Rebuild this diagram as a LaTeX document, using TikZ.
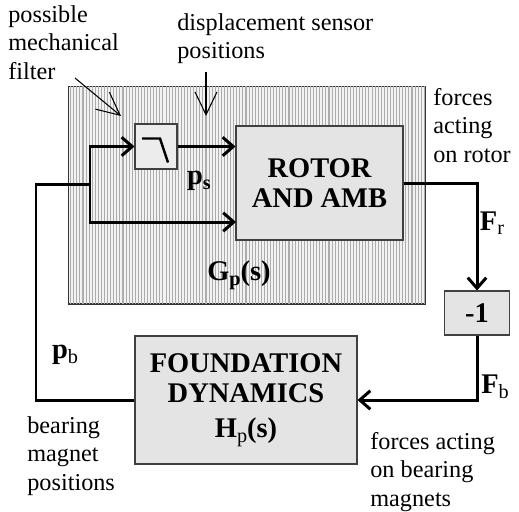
\documentclass[tikz,border=0pt]{standalone}
\usepackage{xcolor}
\usepackage{fontspec}
\setmainfont{Liberation Serif}
\usepackage{tikz}
\usetikzlibrary{arrows.meta,patterns.meta}
\definecolor{BoxGray}{RGB}{228,228,228}
\definecolor{FiltGray}{RGB}{236,236,236}
\definecolor{HatchBack}{RGB}{242,242,242}
\definecolor{HatchLine}{RGB}{172,172,172}
\newcommand{\notefont}{\fontsize{13.8}{16.2}\selectfont}
\newcommand{\blkfont}{\fontsize{16.2}{17}\selectfont\bfseries}
\newcommand{\lowsub}[1]{\raisebox{-0.35ex}{\fontsize{11.5}{12}\selectfont #1}}

\begin{document}
\begin{tikzpicture}[x=0.02cm, y=-0.02cm,
  block/.style={draw=black!75, line width=0.6pt, fill=BoxGray, inner sep=0pt, align=center, font=\blkfont},
  wire/.style={draw=black, line width=1.7pt},
  sig/.style={wire, -{Straight Barb[length=6pt,width=10.5pt]}},
  pointer/.style={draw=black, line width=0.6pt, -{Straight Barb[length=13pt,width=12.5pt]}},
  remark/.style={anchor=north west, inner sep=0pt, align=left, font=\notefont},
  sigtag/.style={inner sep=0pt, font=\blkfont}
]
\useasboundingbox (0,0) rectangle (519,511);

% plant G_p(s)
\node[draw=black!80, line width=0.6pt, fill=HatchBack, minimum width=7.14cm, minimum height=4.36cm,
  postaction={pattern={Lines[angle=90,distance=1.75pt,line width=0.6pt]}, pattern color=HatchLine}] (plant) at (246.5,195) {};

\node[block, fill=FiltGray, minimum width=0.84cm, minimum height=0.9cm] (filt) at (156,146.5) {};
\node[block, minimum width=3.34cm, minimum height=2.28cm] (rotor) at (319.5,183) {ROTOR\\AND AMB};
\node[block, minimum width=1.3cm, minimum height=0.88cm] (gain) at (477,313) {-1};
\node[block, minimum width=4.44cm, minimum height=2.56cm] (found) at (246,400) {FOUNDATION\\DYNAMICS\\[3pt]H\lowsub{\mdseries p}(s)};

% low-pass sign in the filter
\draw[line width=1.4pt] ([shift={(-14,-8)}]filt.center) -- ++(18,0) -- ++(8,24);

\coordinate (split) at (90,184);
\coordinate (bend) at (36,184);
\coordinate (rotlow) at (236,222);

\draw[wire] (found.west) -| (bend) -- (split);
\draw[sig] (split) |- (filt.west);
\draw[sig] (split) |- (rotlow);
\draw[sig] (filt.east) -- (filt.east -| rotor.west);
\draw[sig] (rotor.east) -| (gain.north);
\draw[sig] (gain.south) |- (found.east);

\node[sigtag] (ps) at (199,181) {p\lowsub{\bfseries s}};
\node[sigtag] (gp) at (239,275) {G\lowsub{\bfseries p}(s)};
\node[sigtag] (fr) at (492,223) {F\lowsub{\mdseries r}};
\node[sigtag] (fb) at (495,387) {F\lowsub{\mdseries b}};
\node[sigtag] (pb) at (65,355) {p\lowsub{\mdseries b}};

% notes
\node[remark] (lblfilt) at (8,5) {possible\\mechanical\\filter};
\node[remark] (lblsens) at (177,13) {displacement sensor\\positions};
\node[remark] (lblfr) at (433,88) {forces\\acting\\on rotor};
\node[remark] (lblpb) at (27,416) {bearing\\magnet\\positions};
\node[remark] (lblfb) at (370,432) {forces acting\\on bearing\\magnets};

\coordinate (filtptr) at (75,78);
\coordinate (filttip) at (121,116);
\coordinate (sensptr) at (206,72);
\coordinate (senstip) at (206,116);
\draw[pointer] (filtptr) -- (filttip);
\draw[pointer] (sensptr) -- (senstip);
\end{tikzpicture}
\end{document}
